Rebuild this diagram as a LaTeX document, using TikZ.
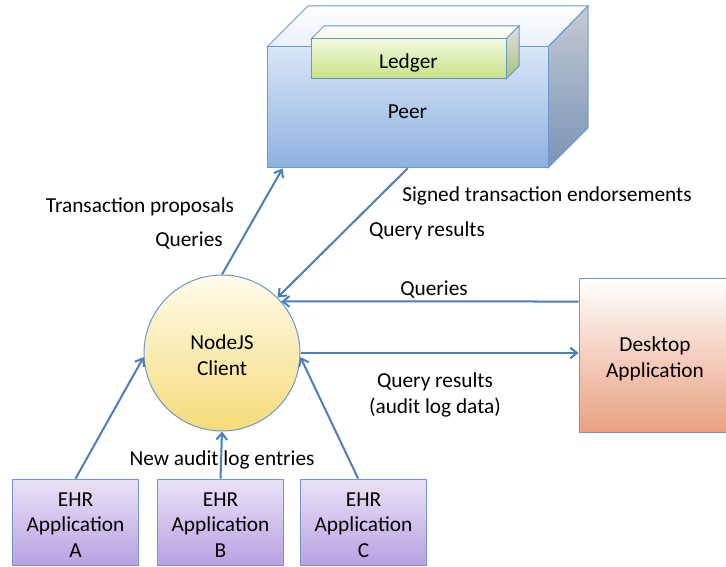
\documentclass[tikz,border=0pt]{standalone}
\usepackage{fontspec}
\setmainfont{Carlito}
\usepackage{tikz}
\usetikzlibrary{arrows.meta, positioning}

\definecolor{edge}{HTML}{6A97CF}
\definecolor{linkblue}{HTML}{4A7EBB}
\definecolor{peertop}{HTML}{D9E6F6}
\definecolor{peerbot}{HTML}{8DB1E0}
\definecolor{sidetop}{HTML}{C3CAD4}
\definecolor{sidebot}{HTML}{7A93B5}
\definecolor{ledgertop}{HTML}{F1F9DF}
\definecolor{ledgerbot}{HTML}{C6E385}
\definecolor{ledgerside}{HTML}{A9C477}
\definecolor{clienttop}{HTML}{FFFCEB}
\definecolor{clientbot}{HTML}{F5DB78}
\definecolor{desktop}{HTML}{EAA080}
\definecolor{ehrtop}{HTML}{EAE2F7}
\definecolor{ehrbot}{HTML}{B7A1E2}

\begin{document}
\begin{tikzpicture}[
    x=0.75pt, y=-0.75pt,
    font=\fontsize{16}{19}\selectfont,
    box/.style={rectangle, draw=edge, line width=0.75pt, inner sep=0pt, align=center},
    ehr/.style={box, minimum width=95pt, minimum height=65pt, top color=ehrtop, bottom color=ehrbot,
                text height=51.8pt, text depth=0pt},
    arrow/.style={-{Straight Barb[length=5pt, width=8pt]}, line width=1.5pt, draw=linkblue},
    lbl/.style={inner sep=0pt, align=center}
]
\useasboundingbox (0,0) rectangle (726,567);

% peer block
\path[draw=edge, line width=0.75pt, top color=white, bottom color=peertop!60]
    (267,47) -- (308,6) -- (588,6) -- (548,47) -- cycle;
\path[draw=edge, line width=0.75pt, top color=sidetop, bottom color=sidebot]
    (548,47) -- (588,6) -- (588,128) -- (548,168) -- cycle;
\node[box, minimum width=210.75pt, minimum height=90.75pt, top color=peertop, bottom color=peerbot,
      text height=15.8pt, text depth=0pt] (peer) at (407.5,107.5) {Peer};

% ledger block
\path[draw=edge, line width=0.75pt, top color=white, bottom color=ledgertop]
    (311,39) -- (324,26) -- (519,26) -- (506,39) -- cycle;
\path[draw=edge, line width=0.75pt, top color=gray!25, bottom color=ledgerside]
    (506,39) -- (519,26) -- (519,66) -- (506,79) -- cycle;
\node[box, minimum width=146.25pt, minimum height=30pt, top color=ledgertop, bottom color=ledgerbot,
      text height=15pt, text depth=0pt] (ledger) at (408.5,59) {Ledger};

% client and applications
\node[circle, draw=edge, line width=0.75pt, minimum size=117pt, inner sep=0pt, align=center,
      top color=clienttop, bottom color=clientbot, text height=33pt, text depth=0pt] (client) at (222,353) {NodeJS\\Client};
\node[box, minimum width=114pt, minimum height=115.5pt, top color=white, bottom color=desktop,
      text height=33pt, text depth=0pt] (desktop) at (655,355) {Desktop\\Application};
\node[ehr] (ehrA) at (75.5,522.5) {EHR\\Application\\A};
\node[ehr] (ehrB) at (220.5,522.5) {EHR\\Application\\B};
\node[ehr] (ehrC) at (363.5,522.5) {EHR\\Application\\C};

% labels
\node[lbl] (proposals) at (140,206.5) {Transaction proposals};
\node[lbl] (queriesL) at (189,240.5) {Queries};
\node[lbl] (endorse) at (547,195.5) {Signed transaction endorsements};
\node[lbl] (resultsP) at (427,230.5) {Query results};
\node[lbl] (queriesR) at (434,289.5) {Queries};
\node[lbl, font=\fontsize{16}{19.5}\selectfont] (resultsD) at (435,394.5) {Query results\\(audit log data)};
\node[lbl] (entries) at (222,459.5) {New audit log entries};

% links
\draw[arrow] (client.north) -- ([xshift=12pt]peer.south west);
\draw[arrow] (peer.south) -- (client.45);
\draw[arrow] ([yshift=-18pt]desktop.north west) -- (client.41);
\draw[arrow] (client.east) -- (client.east -| desktop.west);
\draw[arrow] (ehrA.north) -- (client.183);
\draw[arrow] (ehrB.north) -- (client.south);
\draw[arrow] ([xshift=-4pt]ehrC.north) -- (client.-3);

\end{tikzpicture}
\end{document}
